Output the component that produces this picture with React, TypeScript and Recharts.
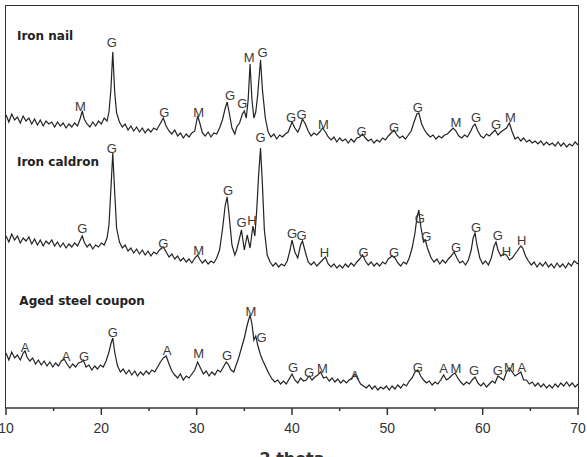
import React from 'react';
import { ComposedChart, Line, Scatter, XAxis, YAxis } from 'recharts';

// 2-theta (deg) vs. relative intensity (stacked traces)
const ironNail: [number, number][] = [
  [10.0, 293], [10.3, 286], [10.6, 294], [10.9, 288], [11.2, 291], [11.5, 285], [11.8, 292], [12.1, 287], [12.4, 290], [12.7, 284],
  [13.0, 289], [13.3, 283], [13.6, 288], [13.9, 282], [14.2, 287], [14.5, 284], [14.8, 286], [15.1, 281], [15.4, 286], [15.7, 282],
  [16.0, 285], [16.3, 280], [16.6, 284], [16.9, 281], [17.2, 285], [17.5, 282], [17.8, 290], [18.0, 297], [18.2, 289], [18.5, 284],
  [18.8, 281], [19.1, 286], [19.4, 282], [19.7, 287], [20.0, 284], [20.3, 290], [20.6, 287], [20.8, 296], [21.0, 318], [21.2, 356],
  [21.4, 316], [21.6, 295], [21.9, 286], [22.2, 281], [22.5, 284], [22.8, 278], [23.1, 282], [23.4, 277], [23.7, 281], [24.0, 276],
  [24.3, 280], [24.6, 275], [24.9, 279], [25.2, 276], [25.5, 280], [25.8, 278], [26.1, 283], [26.5, 290], [26.8, 282], [27.1, 277],
  [27.4, 274], [27.7, 278], [28.0, 272], [28.3, 275], [28.6, 270], [28.9, 274], [29.2, 271], [29.5, 275], [29.8, 277], [30.1, 292],
  [30.3, 286], [30.6, 275], [30.9, 272], [31.2, 276], [31.5, 271], [31.8, 275], [32.1, 274], [32.4, 280], [32.7, 288], [33.0, 300],
  [33.2, 306], [33.4, 296], [33.7, 280], [34.0, 274], [34.2, 281], [34.5, 285], [34.8, 294], [35.0, 297], [35.2, 290], [35.4, 308],
  [35.6, 344], [35.8, 308], [36.0, 290], [36.2, 296], [36.4, 313], [36.7, 348], [36.9, 318], [37.2, 290], [37.5, 276], [37.8, 271],
  [38.1, 274], [38.4, 269], [38.7, 273], [39.0, 271], [39.3, 274], [39.6, 276], [40.0, 286], [40.3, 280], [40.6, 276], [40.8, 280],
  [41.1, 289], [41.4, 284], [41.7, 277], [42.0, 272], [42.3, 275], [42.6, 273], [42.9, 276], [43.2, 280], [43.5, 276], [43.8, 271],
  [44.1, 268], [44.4, 271], [44.7, 266], [45.0, 270], [45.3, 267], [45.6, 269], [45.9, 265], [46.2, 269], [46.5, 266], [46.8, 270],
  [47.1, 271], [47.4, 274], [47.7, 270], [48.0, 267], [48.3, 269], [48.6, 265], [48.9, 268], [49.2, 266], [49.5, 270], [49.8, 268],
  [50.1, 272], [50.4, 275], [50.7, 278], [51.0, 273], [51.3, 270], [51.6, 272], [51.9, 269], [52.2, 273], [52.5, 277], [52.8, 286],
  [53.1, 294], [53.3, 295], [53.6, 284], [53.9, 278], [54.2, 274], [54.5, 271], [54.8, 273], [55.1, 269], [55.4, 272], [55.7, 270],
  [56.0, 273], [56.3, 274], [56.6, 277], [56.9, 280], [57.2, 277], [57.5, 272], [57.8, 270], [58.1, 273], [58.4, 271], [58.7, 276],
  [59.0, 282], [59.2, 284], [59.5, 277], [59.8, 272], [60.1, 270], [60.4, 274], [60.7, 272], [61.0, 275], [61.3, 278], [61.6, 273],
  [61.9, 276], [62.2, 278], [62.5, 280], [62.8, 285], [63.1, 276], [63.4, 269], [63.7, 271], [64.0, 267], [64.3, 270], [64.6, 266],
  [64.9, 268], [65.2, 265], [65.5, 267], [65.8, 264], [66.1, 267], [66.4, 263], [66.7, 266], [67.0, 263], [67.3, 265], [67.6, 262],
  [67.9, 266], [68.2, 262], [68.5, 265], [68.8, 261], [69.1, 264], [69.4, 262], [69.7, 266], [70.0, 263],
];

const ironCaldron: [number, number][] = [
  [10.0, 172], [10.3, 166], [10.6, 174], [10.9, 168], [11.2, 172], [11.5, 165], [11.8, 170], [12.1, 167], [12.4, 171], [12.7, 164],
  [13.0, 169], [13.3, 163], [13.6, 168], [13.9, 162], [14.2, 167], [14.5, 164], [14.8, 168], [15.1, 162], [15.4, 166], [15.7, 161],
  [16.0, 165], [16.3, 160], [16.6, 164], [16.9, 161], [17.2, 165], [17.5, 162], [17.8, 168], [18.0, 172], [18.2, 166], [18.5, 161],
  [18.8, 164], [19.1, 159], [19.4, 163], [19.7, 161], [20.0, 165], [20.3, 163], [20.6, 170], [20.8, 183], [21.0, 218], [21.2, 255],
  [21.4, 216], [21.6, 180], [21.9, 166], [22.2, 160], [22.5, 163], [22.8, 157], [23.1, 160], [23.4, 155], [23.7, 159], [24.0, 154],
  [24.3, 158], [24.6, 153], [24.9, 157], [25.2, 152], [25.5, 156], [25.8, 154], [26.1, 158], [26.5, 161], [26.8, 156], [27.1, 151],
  [27.4, 154], [27.7, 149], [28.0, 152], [28.3, 147], [28.6, 150], [28.9, 146], [29.2, 149], [29.5, 145], [29.8, 150], [30.1, 153],
  [30.3, 149], [30.6, 145], [30.9, 148], [31.2, 144], [31.5, 147], [31.8, 145], [32.1, 150], [32.4, 158], [32.7, 178], [33.0, 203],
  [33.2, 211], [33.4, 193], [33.7, 163], [34.0, 153], [34.2, 158], [34.45, 168], [34.7, 178], [35.0, 158], [35.3, 173], [35.6, 160],
  [35.9, 182], [36.1, 172], [36.3, 198], [36.5, 233], [36.7, 260], [36.9, 223], [37.1, 178], [37.4, 153], [37.7, 146], [38.0, 142],
  [38.3, 145], [38.6, 141], [38.9, 144], [39.2, 142], [39.5, 147], [39.8, 158], [40.0, 168], [40.3, 156], [40.6, 150], [40.9, 163],
  [41.1, 167], [41.4, 156], [41.7, 146], [42.0, 143], [42.3, 146], [42.6, 142], [42.9, 145], [43.2, 148], [43.5, 151], [43.8, 144],
  [44.1, 141], [44.4, 144], [44.7, 140], [45.0, 143], [45.3, 140], [45.6, 144], [45.9, 141], [46.2, 145], [46.5, 142], [46.8, 146],
  [47.1, 149], [47.4, 153], [47.7, 147], [48.0, 143], [48.3, 146], [48.6, 142], [48.9, 145], [49.2, 142], [49.5, 146], [49.8, 144],
  [50.1, 149], [50.5, 152], [50.8, 150], [51.1, 145], [51.4, 142], [51.7, 146], [52.0, 144], [52.3, 150], [52.6, 160], [52.9, 175],
  [53.1, 190], [53.3, 198], [53.5, 182], [53.8, 166], [54.0, 168], [54.2, 160], [54.4, 155], [54.6, 150], [54.9, 146], [55.2, 149],
  [55.5, 144], [55.8, 148], [56.1, 145], [56.4, 149], [56.7, 152], [57.0, 156], [57.3, 150], [57.6, 145], [57.9, 147], [58.2, 143],
  [58.5, 148], [58.8, 158], [59.0, 170], [59.2, 175], [59.4, 163], [59.7, 150], [60.0, 144], [60.3, 147], [60.6, 143], [60.9, 150],
  [61.2, 162], [61.4, 166], [61.6, 158], [61.9, 152], [62.2, 154], [62.5, 153], [62.8, 148], [63.1, 150], [63.4, 154], [63.7, 158],
  [64.0, 162], [64.2, 160], [64.5, 152], [64.8, 147], [65.1, 143], [65.4, 146], [65.7, 141], [66.0, 145], [66.3, 142], [66.6, 146],
  [66.9, 141], [67.2, 144], [67.5, 140], [67.8, 145], [68.1, 141], [68.4, 144], [68.7, 140], [69.0, 145], [69.3, 142], [69.6, 147],
  [70.0, 144],
];

const agedCoupon: [number, number][] = [
  [10.0, 55], [10.3, 48], [10.6, 56], [10.9, 50], [11.2, 53], [11.5, 48], [11.8, 55], [12.0, 57], [12.2, 51], [12.5, 47],
  [12.8, 50], [13.1, 44], [13.4, 48], [13.7, 43], [14.0, 47], [14.3, 42], [14.6, 46], [14.9, 41], [15.2, 45], [15.5, 42],
  [15.8, 47], [16.1, 49], [16.4, 44], [16.7, 40], [17.0, 44], [17.3, 41], [17.6, 45], [17.9, 46], [18.1, 48], [18.4, 41],
  [18.7, 43], [19.0, 38], [19.3, 42], [19.6, 39], [19.9, 43], [20.2, 41], [20.5, 47], [20.8, 56], [21.0, 64], [21.2, 70],
  [21.4, 56], [21.7, 42], [22.0, 36], [22.3, 39], [22.6, 34], [22.9, 38], [23.2, 33], [23.5, 37], [23.8, 32], [24.1, 36],
  [24.4, 33], [24.7, 37], [25.0, 34], [25.3, 38], [25.6, 36], [25.9, 41], [26.2, 46], [26.5, 50], [26.8, 52], [27.1, 44],
  [27.4, 37], [27.7, 33], [28.0, 30], [28.3, 34], [28.6, 28], [28.9, 32], [29.2, 30], [29.5, 34], [29.8, 38], [30.1, 46],
  [30.4, 40], [30.7, 34], [31.0, 37], [31.3, 32], [31.6, 36], [31.9, 33], [32.2, 38], [32.5, 36], [32.8, 41], [33.1, 46],
  [33.3, 44], [33.6, 38], [33.9, 36], [34.1, 42], [34.4, 50], [34.7, 60], [35.0, 70], [35.3, 83], [35.6, 93], [35.8, 84],
  [36.0, 68], [36.2, 72], [36.4, 63], [36.7, 53], [37.0, 46], [37.3, 40], [37.6, 34], [37.9, 29], [38.2, 26], [38.5, 28],
  [38.8, 24], [39.1, 27], [39.4, 24], [39.7, 29], [40.0, 34], [40.3, 28], [40.6, 25], [40.9, 30], [41.2, 27], [41.5, 28],
  [41.8, 32], [42.1, 28], [42.4, 31], [42.7, 33], [43.0, 36], [43.3, 30], [43.6, 31], [43.9, 27], [44.2, 30], [44.5, 26],
  [44.8, 29], [45.1, 25], [45.4, 28], [45.7, 25], [46.0, 28], [46.3, 30], [46.6, 34], [46.9, 29], [47.2, 24], [47.5, 22],
  [47.8, 20], [48.1, 23], [48.4, 19], [48.7, 22], [49.0, 18], [49.3, 21], [49.6, 19], [49.9, 22], [50.2, 18], [50.5, 22],
  [50.8, 19], [51.1, 23], [51.4, 20], [51.7, 24], [52.0, 22], [52.3, 27], [52.6, 30], [52.9, 36], [53.2, 38], [53.5, 32],
  [53.8, 28], [54.1, 25], [54.4, 27], [54.7, 23], [55.0, 26], [55.3, 24], [55.6, 28], [55.9, 33], [56.2, 28], [56.5, 30],
  [56.8, 33], [57.1, 35], [57.4, 30], [57.7, 26], [58.0, 23], [58.3, 26], [58.6, 24], [58.9, 28], [59.2, 31], [59.5, 25],
  [59.8, 22], [60.1, 25], [60.4, 21], [60.7, 24], [61.0, 27], [61.3, 25], [61.6, 32], [61.9, 30], [62.2, 28], [62.5, 36],
  [62.8, 40], [63.1, 36], [63.4, 32], [63.7, 34], [64.0, 36], [64.3, 28], [64.6, 28], [64.9, 24], [65.2, 26], [65.5, 22],
  [65.8, 25], [66.1, 21], [66.4, 24], [66.7, 20], [67.0, 23], [67.3, 20], [67.6, 24], [67.9, 21], [68.2, 25], [68.5, 22],
  [68.8, 26], [69.1, 22], [69.4, 25], [69.7, 21], [70.0, 24],
];

// Phase markers: G = goethite, M = magnetite, H = hematite, A = akaganeite
const phaseLabels: [number, number, string][] = [
  [17.8, 302, 'M'], [21.1, 366, 'G'], [26.6, 296, 'G'], [30.2, 296, 'M'], [33.5, 313, 'G'], [34.8, 305, 'G'],
  [35.5, 351, 'M'], [36.9, 356, 'G'], [39.9, 291, 'G'], [41.0, 294, 'G'], [43.3, 284, 'M'], [47.3, 277, 'G'],
  [50.7, 281, 'G'], [53.2, 301, 'G'], [57.2, 286, 'M'], [59.3, 291, 'G'], [61.4, 284, 'G'], [62.9, 291, 'M'],
  [18.0, 180, 'G'], [21.1, 260, 'G'], [26.5, 165, 'G'], [30.2, 158, 'M'], [33.3, 218, 'G'], [34.7, 186, 'G'],
  [35.8, 188, 'H'], [36.7, 271, 'G'], [40.0, 175, 'G'], [41.0, 173, 'G'], [43.4, 156, 'H'], [47.5, 156, 'G'],
  [50.7, 156, 'G'], [53.4, 190, 'G'], [54.1, 172, 'G'], [57.2, 161, 'G'], [59.3, 181, 'G'], [61.6, 173, 'G'],
  [62.5, 157, 'H'], [64.1, 168, 'H'],
  [12.0, 61, 'A'], [16.3, 52, 'A'], [18.2, 52, 'G'], [21.2, 76, 'G'], [26.9, 58, 'A'], [30.2, 55, 'M'],
  [33.2, 53, 'G'], [35.7, 97, 'M'], [36.8, 71, 'G'], [40.1, 41, 'G'], [41.8, 36, 'G'], [43.2, 40, 'M'],
  [46.6, 33, 'A'], [53.2, 41, 'G'], [55.9, 40, 'A'], [57.2, 40, 'M'], [59.1, 38, 'G'], [61.6, 38, 'G'],
  [62.8, 41, 'M'], [64.1, 41, 'A'],
];

const sampleTitles: [number, number, string][] = [
  [11.15, 373, 'Iron nail'],
  [11.15, 247, 'Iron caldron'],
  [11.4, 108, 'Aged steel coupon'],
];

const xDomain: [number, number] = [10, 70];
const yDomain: [number, number] = [0, 402];
const xTicks = [10, 15, 20, 25, 30, 35, 40, 45, 50, 55, 60, 65, 70];
const xLabel = '2 theta';

const toPts = (a: [number, number][]) => a.map(([x, y]) => ({ x, y }));
const toLbl = (a: [number, number, string][]) => a.map(([x, y, t]) => ({ x, y, t }));

const AXIS = '#333';
const W = 587;
const H = 457;
const M = { top: 6, right: 9, left: 6, bottom: 0 };
const X_AXIS_H = 49;

const Tick = (props: any) => {
  const { x, y, payload } = props;
  const major = payload.value % 10 === 0;
  return (
    <g>
      <line x1={x} x2={x} y1={y} y2={y + (major ? 7 : 3)} stroke={AXIS} strokeWidth={1.5} />
      {major && (
        <text x={x} y={y + 25} textAnchor="middle" fontSize={14} fill="#333" fontFamily="'Liberation Sans', Arial, sans-serif">
          {payload.value}
        </text>
      )}
    </g>
  );
};

const PhaseShape = (p: any) => (
  <text x={p.cx} y={p.cy + 4.6} textAnchor="middle" fontSize={13} fill="#3a3a3a" fontFamily="'Liberation Sans', Arial, sans-serif">
    {p.payload.t}
  </text>
);

const TitleShape = (p: any) => (
  <text x={p.cx} y={p.cy + 4.5} textAnchor="start" fontSize={12} fontWeight="bold" fill="#222" fontFamily="'DejaVu Sans', sans-serif">
    {p.payload.t}
  </text>
);

export default function App() {
  const plotW = W - M.left - M.right;
  const plotH = H - M.top - M.bottom - X_AXIS_H;
  return (
    <div style={{ position: 'absolute', left: 0, top: 0, width: W, height: H, background: '#fff' }}>
      <ComposedChart width={W} height={H} margin={M}>
        <XAxis
          type="number"
          dataKey="x"
          domain={xDomain}
          ticks={xTicks}
          interval={0}
          tick={<Tick />}
          tickLine={false}
          tickSize={0}
          tickMargin={0}
          height={X_AXIS_H}
          axisLine={{ stroke: AXIS, strokeWidth: 1.5 }}
          label={{ value: xLabel, position: 'insideBottom', offset: -7, fontSize: 16, fontWeight: 'bold', fill: '#333', fontFamily: "'DejaVu Sans', sans-serif" }}
        />
        <YAxis type="number" dataKey="y" domain={yDomain} hide />
        <Line data={toPts(ironNail)} dataKey="y" type="linear" stroke="#222" strokeWidth={1.2} dot={false} isAnimationActive={false} />
        <Line data={toPts(ironCaldron)} dataKey="y" type="linear" stroke="#222" strokeWidth={1.2} dot={false} isAnimationActive={false} />
        <Line data={toPts(agedCoupon)} dataKey="y" type="linear" stroke="#222" strokeWidth={1.2} dot={false} isAnimationActive={false} />
        <Scatter data={toLbl(phaseLabels)} dataKey="y" shape={PhaseShape} isAnimationActive={false} />
        <Scatter data={toLbl(sampleTitles)} dataKey="y" shape={TitleShape} isAnimationActive={false} />
      </ComposedChart>
      {/* plot frame (left, top, right edges of the plotting area) */}
      <div
        style={{
          position: 'absolute',
          left: M.left - 0.75,
          top: M.top - 0.75,
          width: plotW + 1.5,
          height: plotH + 0.75,
          boxSizing: 'border-box',
          borderLeft: `1.5px solid ${AXIS}`,
          borderTop: `1.5px solid ${AXIS}`,
          borderRight: `1.5px solid ${AXIS}`,
          pointerEvents: 'none',
        }}
      />
    </div>
  );
}
